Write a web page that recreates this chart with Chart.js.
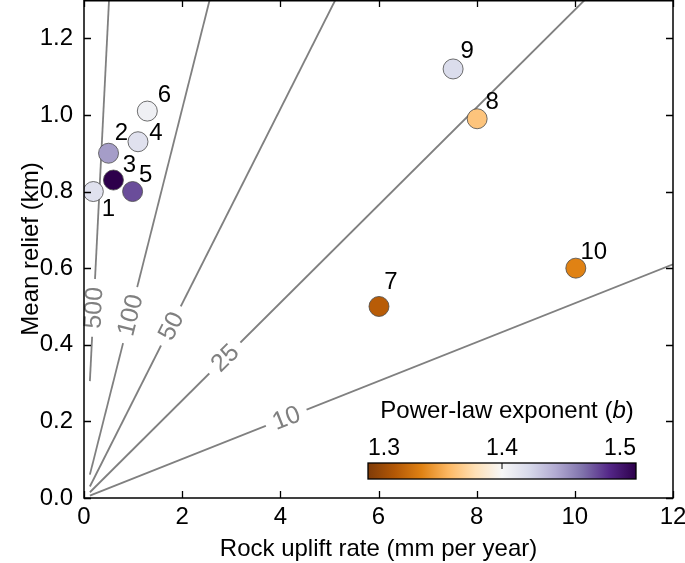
<!DOCTYPE html>
<html>
<head>
<meta charset="utf-8">
<script src="https://cdn.jsdelivr.net/npm/chart.js@4.4.1/dist/chart.umd.min.js"></script>
<style>
  html, body { margin: 0; padding: 0; background: #fff; }
  #wrap { width: 685px; height: 563px; }
</style>
</head>
<body>
<div id="wrap"><canvas id="reliefChart" width="685" height="563"></canvas></div>
<script>
// --- data ---
var siteLabels = ['1', '2', '3', '4', '5', '6', '7', '8', '9', '10'];
var upliftRate = [0.19, 0.50, 0.60, 1.10, 0.99, 1.29, 6.01, 8.01, 7.52, 10.02];   // mm per year
var meanRelief = [0.80, 0.90, 0.83, 0.93, 0.80, 1.01, 0.50, 0.99, 1.12, 0.60];    // km
var exponentB  = [1.415, 1.445, 1.50, 1.415, 1.47, 1.405, 1.322, 1.366, 1.418, 1.34];

// contour lines (start / end points) and where their labels sit
var contourLabels = ['10', '25', '50', '100', '500'];
var contourStartU = [0.12, 0.12, 0.12, 0.12, 0.12];
var contourStartR = [0.006, 0.015, 0.03, 0.061, 0.305];
var contourEndU   = [12, 10.2, 5.12, 2.56, 0.51];
var contourEndR   = [0.61, 1.3, 1.3, 1.3, 1.3];
var contourLabelU = [4.12, 2.87, 1.77, 0.94, 0.195];

var xTickValues = [0, 2, 4, 6, 8, 10, 12];
var yTickValues = [0, 0.2, 0.4, 0.6, 0.8, 1.0, 1.2];
var cbarTicks = [1.3, 1.4, 1.5];

// reversed PuOr, 1.3 -> 1.5
var cmapStops = ['#7f3b08', '#b35806', '#e08214', '#fdb863', '#fee0b6', '#f7f7f7',
                 '#d8daeb', '#b2abd2', '#8073ac', '#542788', '#2d004b'];

// label offsets from marker centre (px)
var labelOffsets = [[15, 18], [13, -20], [16, -15], [18, -8], [13, -16],
                    [17, -16], [12, -24], [15, -16], [14, -18], [18, -16]];

var FONT = '"Liberation Sans", Arial, Helvetica, sans-serif';

function hexRgb(h) {
    return [parseInt(h.substr(1, 2), 16), parseInt(h.substr(3, 2), 16), parseInt(h.substr(5, 2), 16)];
}

function cmap(b) {
    var t = (b - 1.3) / 0.2;
    t = Math.max(0, Math.min(1, t));
    var pos = t * (cmapStops.length - 1);
    var i = Math.min(Math.floor(pos), cmapStops.length - 2);
    var f = pos - i;
    var a = hexRgb(cmapStops[i]), c = hexRgb(cmapStops[i + 1]);
    var r = [0, 1, 2].map(function (k) { return Math.round(a[k] + (c[k] - a[k]) * f); });
    return 'rgb(' + r.join(',') + ')';
}

var datasets = [];
contourLabels.forEach(function (lab, i) {
    datasets.push({
        label: 'K ' + lab,
        data: [{ x: contourStartU[i], y: contourStartR[i] }, { x: contourEndU[i], y: contourEndR[i] }],
        showLine: true,
        borderColor: '#808080',
        borderWidth: 1.8,
        pointRadius: 0,
        order: 2
    });
});
datasets.push({
    label: 'sites',
    data: upliftRate.map(function (u, i) { return { x: u, y: meanRelief[i] }; }),
    backgroundColor: exponentB.map(cmap),
    borderColor: '#4a4a4a',
    borderWidth: 0.8,
    pointRadius: 10,
    order: 1
});
var siteIndex = datasets.length - 1;

var decor = {
    id: 'decor',
    afterDatasetsDraw: function (chart) {
        var ctx = chart.ctx, xs = chart.scales.x, ys = chart.scales.y;
        ctx.save();
        ctx.font = '25px ' + FONT;
        ctx.textAlign = 'center';
        ctx.textBaseline = 'middle';
        contourLabels.forEach(function (lab, i) {
            var x1 = xs.getPixelForValue(contourStartU[i]), y1 = ys.getPixelForValue(contourStartR[i]);
            var x2 = xs.getPixelForValue(contourEndU[i]), y2 = ys.getPixelForValue(contourEndR[i]);
            var f = (contourLabelU[i] - contourStartU[i]) / (contourEndU[i] - contourStartU[i]);
            var cx = x1 + (x2 - x1) * f, cy = y1 + (y2 - y1) * f;
            var ang = Math.atan2(y2 - y1, x2 - x1);
            var w = ctx.measureText(lab).width;
            ctx.save();
            ctx.translate(cx, cy);
            ctx.rotate(ang);
            ctx.fillStyle = '#fff';
            ctx.fillRect(-w / 2 - 8, -6, w + 16, 12);
            ctx.fillStyle = '#808080';
            ctx.fillText(lab, 0, 1);
            ctx.restore();
        });

        // site numbers
        var meta = chart.getDatasetMeta(siteIndex);
        ctx.fillStyle = '#000';
        ctx.font = '24px ' + FONT;
        meta.data.forEach(function (pt, i) {
            ctx.fillText(siteLabels[i], pt.x + labelOffsets[i][0], pt.y + labelOffsets[i][1]);
        });
        ctx.restore();
    },
    afterDraw: function (chart) {
        var ctx = chart.ctx, a = chart.chartArea, xs = chart.scales.x, ys = chart.scales.y;
        var tl = 7;
        ctx.save();
        ctx.strokeStyle = '#000';
        ctx.lineWidth = 1.5;
        ctx.strokeRect(a.left, a.top + 0.75, a.right - a.left, a.bottom - a.top - 0.75);
        ctx.beginPath();
        xTickValues.forEach(function (v) {
            var px = Math.round(xs.getPixelForValue(v)) + 0.5;
            ctx.moveTo(px, a.bottom); ctx.lineTo(px, a.bottom - tl);
            ctx.moveTo(px, a.top); ctx.lineTo(px, a.top + tl);
        });
        yTickValues.forEach(function (v) {
            var py = Math.round(ys.getPixelForValue(v)) + 0.5;
            ctx.moveTo(a.left, py); ctx.lineTo(a.left + tl, py);
            ctx.moveTo(a.right, py); ctx.lineTo(a.right - tl, py);
        });
        ctx.lineWidth = 1.3;
        ctx.stroke();

        // colour bar
        var bl = 368, br = 636, bt = 463, bb = 479;
        var g = ctx.createLinearGradient(bl, 0, br, 0);
        cmapStops.forEach(function (c, i) { g.addColorStop(i / (cmapStops.length - 1), c); });
        ctx.fillStyle = g;
        ctx.fillRect(bl, bt, br - bl, bb - bt);
        ctx.lineWidth = 1.3;
        ctx.strokeStyle = '#000';
        ctx.strokeRect(bl, bt, br - bl, bb - bt);
        ctx.beginPath();
        var mid = bl + (br - bl) * (1.4 - 1.3) / 0.2;
        ctx.moveTo(mid, bt); ctx.lineTo(mid, bt + 6);
        ctx.lineWidth = 1;
        ctx.stroke();

        ctx.fillStyle = '#000';
        ctx.font = '23px ' + FONT;
        ctx.textBaseline = 'alphabetic';
        cbarTicks.forEach(function (v, i) {
            var px = bl + (br - bl) * (v - 1.3) / 0.2;
            ctx.textAlign = i === 0 ? 'left' : (i === cbarTicks.length - 1 ? 'right' : 'center');
            ctx.fillText(v.toFixed(1), px, 455);
        });

        // colour bar title with italic b
        var t1 = 'Power-law exponent (', t2 = 'b', t3 = ')';
        ctx.font = '24px ' + FONT;
        var w1 = ctx.measureText(t1).width, w3 = ctx.measureText(t3).width;
        ctx.font = 'italic 24px ' + FONT;
        var w2 = ctx.measureText(t2).width;
        var x0 = 507 - (w1 + w2 + w3) / 2;
        ctx.textAlign = 'left';
        ctx.font = '24px ' + FONT;
        ctx.fillText(t1, x0, 418);
        ctx.font = 'italic 24px ' + FONT;
        ctx.fillText(t2, x0 + w1, 418);
        ctx.font = '24px ' + FONT;
        ctx.fillText(t3, x0 + w1 + w2, 418);
        ctx.restore();
    }
};

new Chart(document.getElementById('reliefChart').getContext('2d'), {
    type: 'scatter',
    data: { datasets: datasets },
    options: {
        responsive: false,
        animation: false,
        devicePixelRatio: 1,
        layout: { autoPadding: false, padding: { left: 0, right: 12, top: 0, bottom: 0 } },
        plugins: { legend: { display: false }, tooltip: { enabled: false } },
        scales: {
            x: {
                type: 'linear', min: 0, max: 12,
                grid: { display: false, drawTicks: false },
                border: { display: false },
                afterBuildTicks: function (s) { s.ticks = xTickValues.map(function (v) { return { value: v }; }); },
                afterFit: function (s) { s.height = 65; s.paddingLeft = 0; s.paddingRight = 0; },
                ticks: {
                    padding: 5, color: '#000', maxRotation: 0,
                    font: { size: 24, family: FONT },
                    callback: function (v) { return String(v); }
                },
                title: {
                    display: true, text: 'Rock uplift rate (mm per year)', color: '#000',
                    font: { size: 24, family: FONT }, padding: { top: 0, bottom: -1 }
                }
            },
            y: {
                type: 'linear', min: 0, max: 1.3,
                grid: { display: false, drawTicks: false },
                border: { display: false },
                afterBuildTicks: function (s) { s.ticks = yTickValues.map(function (v) { return { value: v }; }); },
                afterFit: function (s) { s.width = 84; s.paddingTop = 0; s.paddingBottom = 0; },
                ticks: {
                    padding: 11, color: '#000',
                    font: { size: 24, family: FONT },
                    callback: function (v) { return Number(v).toFixed(1); }
                },
                title: {
                    display: true, text: 'Mean relief (km)', color: '#000',
                    font: { size: 24, family: FONT }, padding: { top: 17, bottom: 0 }
                }
            }
        }
    },
    plugins: [decor]
});
</script>
</body>
</html>
